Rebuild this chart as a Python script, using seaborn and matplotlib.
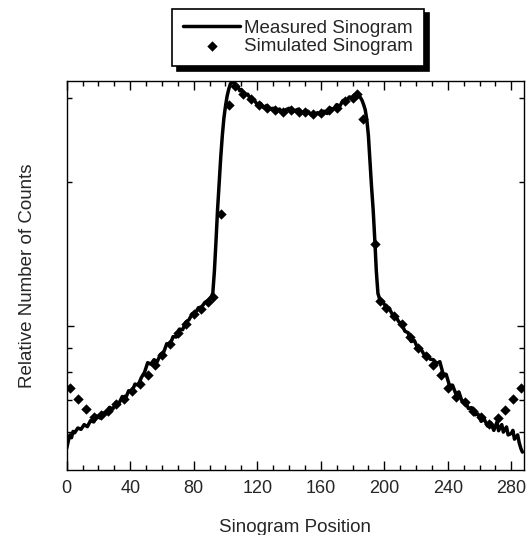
import numpy as np
import pandas as pd
import matplotlib
matplotlib.use("Agg")
import matplotlib.pyplot as plt
import matplotlib.ticker as mticker
from matplotlib.patches import Shadow
import seaborn as sns

# Data ------------------------------------------------------------------
# Measured sinogram (log y)
meas_pos = [0, 1, 2, 3, 4, 5, 7, 9, 11, 13, 15, 17, 19, 21, 23, 25, 27, 29, 31, 33,
            35, 37, 39, 41, 43, 45, 47, 49, 51, 53, 55, 57, 59, 61, 63, 65, 67, 69, 71, 73,
            75, 77, 79, 81, 83, 85, 87, 89, 91, 92, 93, 94, 95, 96, 97, 98, 99, 100, 101, 102,
            103, 104, 105, 106, 107, 108, 109, 110, 112, 114, 116, 118, 120, 122, 124, 126, 128, 130, 132, 134,
            136, 138, 140, 142, 144, 146, 148, 150, 152, 154, 156, 158, 160, 162, 164, 166, 168, 170, 172, 174,
            176, 178, 180, 182, 184, 185, 186, 187, 188, 189, 190, 191, 192, 193, 194, 195, 196, 197, 199, 201,
            203, 205, 207, 209, 211, 213, 215, 217, 219, 221, 223, 225, 227, 229, 231, 233, 235, 237, 239, 241,
            243, 245, 247, 249, 251, 253, 255, 257, 259, 261, 263, 265, 267, 269, 271, 272, 274, 275, 277, 278,
            280, 281, 282, 284, 285, 286, 287]
meas_counts = [0.555, 0.575, 0.592, 0.584, 0.602, 0.598, 0.612, 0.608, 0.622, 0.616, 0.634, 0.630, 0.648, 0.642, 0.658, 0.655, 0.676, 0.670, 0.692, 0.690,
               0.712, 0.705, 0.732, 0.728, 0.756, 0.752, 0.780, 0.800, 0.838, 0.832, 0.850, 0.842, 0.872, 0.880, 0.918, 0.912, 0.950, 0.948, 0.985, 0.982,
               1.018, 1.030, 1.060, 1.065, 1.092, 1.095, 1.120, 1.130, 1.150, 1.170, 1.30, 1.50, 1.75, 1.98, 2.25, 2.50, 2.72, 2.88, 3.02, 3.12,
               3.20, 3.24, 3.23, 3.20, 3.18, 3.15, 3.10, 3.12, 3.04, 3.05, 2.97, 2.97, 2.90, 2.92, 2.86, 2.89, 2.84, 2.85, 2.80, 2.84,
               2.79, 2.83, 2.85, 2.80, 2.82, 2.84, 2.79, 2.80, 2.81, 2.76, 2.77, 2.79, 2.76, 2.81, 2.78, 2.85, 2.84, 2.90, 2.88, 2.96,
               2.95, 3.01, 3.00, 3.05, 3.03, 3.00, 2.96, 2.90, 2.83, 2.70, 2.50, 2.20, 1.95, 1.75, 1.52, 1.30, 1.17, 1.14, 1.125, 1.095,
               1.090, 1.058, 1.052, 1.022, 1.008, 0.975, 0.968, 0.928, 0.932, 0.898, 0.896, 0.872, 0.872, 0.852, 0.850, 0.835, 0.842, 0.795, 0.792, 0.752,
               0.752, 0.722, 0.728, 0.695, 0.698, 0.672, 0.675, 0.652, 0.655, 0.632, 0.638, 0.618, 0.628, 0.605, 0.630, 0.604, 0.622, 0.600, 0.615, 0.592,
               0.596, 0.605, 0.580, 0.592, 0.570, 0.555, 0.545]

# Simulated sinogram (diamonds)
sim_pos = [2, 7, 12, 17, 21.5, 26, 31, 36, 41, 46, 51, 55.5, 60, 65, 70, 75, 80, 84.5, 89, 92,
           97, 102, 106, 111, 116, 121, 126, 131, 136, 141, 146, 150, 155, 160, 165, 170, 175, 180, 183, 186.7,
           194, 197, 201, 206, 211, 216, 221, 226, 231, 236, 240, 245.4, 251, 256, 261, 266, 271.6, 275.8, 281, 286.3]
sim_counts = [0.741, 0.703, 0.669, 0.645, 0.650, 0.664, 0.688, 0.705, 0.730, 0.755, 0.790, 0.830, 0.870, 0.918, 0.968, 1.010, 1.058, 1.085, 1.120, 1.150,
              1.71, 2.90, 3.18, 3.06, 2.98, 2.90, 2.86, 2.82, 2.80, 2.83, 2.80, 2.80, 2.77, 2.78, 2.82, 2.86, 2.95, 3.00, 3.05, 2.71,
              1.48, 1.13, 1.09, 1.05, 1.01, 0.95, 0.90, 0.865, 0.83, 0.79, 0.742, 0.711, 0.695, 0.665, 0.645, 0.625, 0.643, 0.667, 0.703, 0.741]

xticks = [0, 40, 80, 120, 160, 200, 240, 280]

meas = pd.DataFrame({"pos": meas_pos, "counts": meas_counts})
sim = pd.DataFrame({"pos": sim_pos, "counts": sim_counts})

# Style -----------------------------------------------------------------
sns.set_style("ticks")
plt.rcParams["font.family"] = ["Liberation Sans", "DejaVu Sans"]

fig = plt.figure(figsize=(5.27, 5.35), dpi=100)
ax = fig.add_axes([0.1266, 0.1215, 0.8677, 0.7271])

sns.lineplot(data=meas, x="pos", y="counts", color="black", linewidth=2.5,
             errorbar=None, estimator=None, sort=False, ax=ax, label="Measured Sinogram",
             legend=False)
sns.scatterplot(data=sim, x="pos", y="counts", color="black", marker="D", s=28,
                edgecolor="black", linewidth=0, ax=ax, label="Simulated Sinogram",
                legend=False, zorder=3)

ax.set_yscale("log")
ax.set_ylim(0.5, 3.25)
ax.set_xlim(0, 288)

ax.xaxis.set_major_locator(mticker.FixedLocator(xticks))
ax.xaxis.set_minor_locator(mticker.MultipleLocator(10))
ax.yaxis.set_major_locator(mticker.FixedLocator([1]))
ax.yaxis.set_minor_locator(mticker.FixedLocator([0.6, 0.7, 0.8, 0.9, 2, 3]))
ax.yaxis.set_major_formatter(mticker.NullFormatter())
ax.yaxis.set_minor_formatter(mticker.NullFormatter())

ax.tick_params(axis="both", which="both", direction="in", top=True, right=True,
               color="black", width=1.0)
ax.tick_params(axis="x", which="major", length=6.5, pad=7, labelsize=13)
ax.tick_params(axis="x", which="minor", length=3.5)
ax.tick_params(axis="y", which="major", length=5, labelleft=False)
ax.tick_params(axis="y", which="minor", length=3.5)

for sp in ax.spines.values():
    sp.set_color("black")
    sp.set_linewidth(1.0)

ax.set_xlabel("Sinogram Position", fontsize=13.5, labelpad=16)
ax.set_ylabel("Relative Number of Counts", fontsize=13.5, labelpad=19)

# Legend above the plot with a hard black drop shadow
handles, labels = ax.get_legend_handles_labels()
leg = fig.legend(handles, labels, loc="center", bbox_to_anchor=(0.566, 0.930),
                 fontsize=13.5, frameon=True, fancybox=False, edgecolor="black",
                 framealpha=1, handlelength=3.0, handletextpad=0.25,
                 labelspacing=0.05, borderpad=0.6, markerscale=1.0)
leg.get_frame().set_linewidth(1.2)

fig.canvas.draw()
shadow = Shadow(leg.legendPatch, 3.5, -3.5, color="black", zorder=4)
shadow.set_alpha(1)
shadow.set_facecolor("black")
fig.add_artist(shadow)

fig.savefig("out.png", dpi=100)
